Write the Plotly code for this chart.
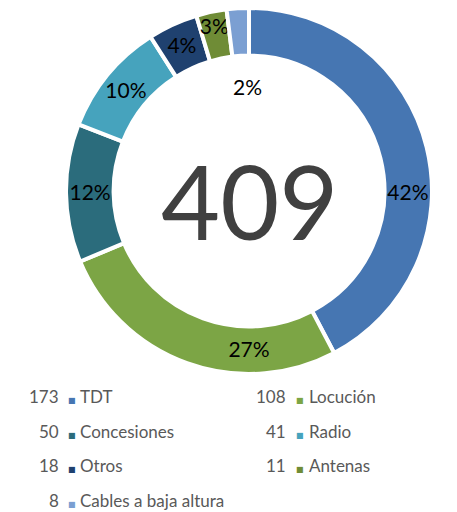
import plotly.graph_objects as go

categories = ["TDT", "Locución", "Concesiones", "Radio", "Otros", "Antenas", "Cables a baja altura"]
values = [173, 108, 50, 41, 18, 11, 8]
percent_labels = ["42%", "27%", "12%", "10%", "4%", "3%", "2%"]
colors = ["#4676b2", "#7ca545", "#2b6c7c", "#46a3bd", "#1f416f", "#6f8c36", "#7b9fd2"]
total_label = "409"

W, H = 457, 512
OFF = 8  # default page body margin
FONT = "Lato"


def px(x):
    return (x - OFF) / W


def py(y):
    return 1 - (y - OFF) / H


slice_text = [t if c != "Cables a baja altura" else "" for t, c in zip(percent_labels, categories)]

fig = go.Figure()
fig.add_trace(go.Pie(
    labels=categories,
    values=values,
    text=slice_text,
    textinfo="text",
    textposition="inside",
    insidetextorientation="horizontal",
    sort=False,
    direction="clockwise",
    rotation=0,
    hole=0.74,
    marker=dict(colors=colors, line=dict(color="white", width=4)),
    textfont=dict(family=FONT, size=21, color="black"),
    domain=dict(x=[px(66), px(432)], y=[py(374), py(8)]),
    showlegend=False,
))

ann = []
ann.append(dict(x=px(249), y=py(200), xref="paper", yref="paper", text=total_label,
                showarrow=False, font=dict(family=FONT, size=102, color="#404040")))
ann.append(dict(x=px(247), y=py(72), xref="paper", yref="paper", text=percent_labels[6],
                showarrow=False, font=dict(family=FONT, size=21, color="black")))

legend_cols = [(61, 72, 78), (288, 300, 307)]
row_y = [409, 444, 478, 513]
for i in range(len(categories)):
    col = i % 2
    row = i // 2
    vx, mx, nx = legend_cols[col]
    y = py(row_y[row])
    ann.append(dict(x=px(vx), y=y, xref="paper", yref="paper", text=str(values[i]),
                    xanchor="right", showarrow=False,
                    font=dict(family=FONT, size=17, color="#595959")))
    ann.append(dict(x=px(mx), y=py(row_y[row] - 2), xref="paper", yref="paper", text="■",
                    xanchor="center", showarrow=False,
                    font=dict(family="DejaVu Sans", size=8, color=colors[i])))
    ann.append(dict(x=px(nx), y=y, xref="paper", yref="paper", text=categories[i],
                    xanchor="left", showarrow=False,
                    font=dict(family=FONT, size=17, color="#595959")))

fig.update_layout(
    width=W, height=H,
    margin=dict(l=0, r=0, t=0, b=0),
    paper_bgcolor="white",
    plot_bgcolor="white",
    annotations=ann,
    uniformtext=dict(minsize=21, mode="show"),
)

fig.write_html("out.html")
